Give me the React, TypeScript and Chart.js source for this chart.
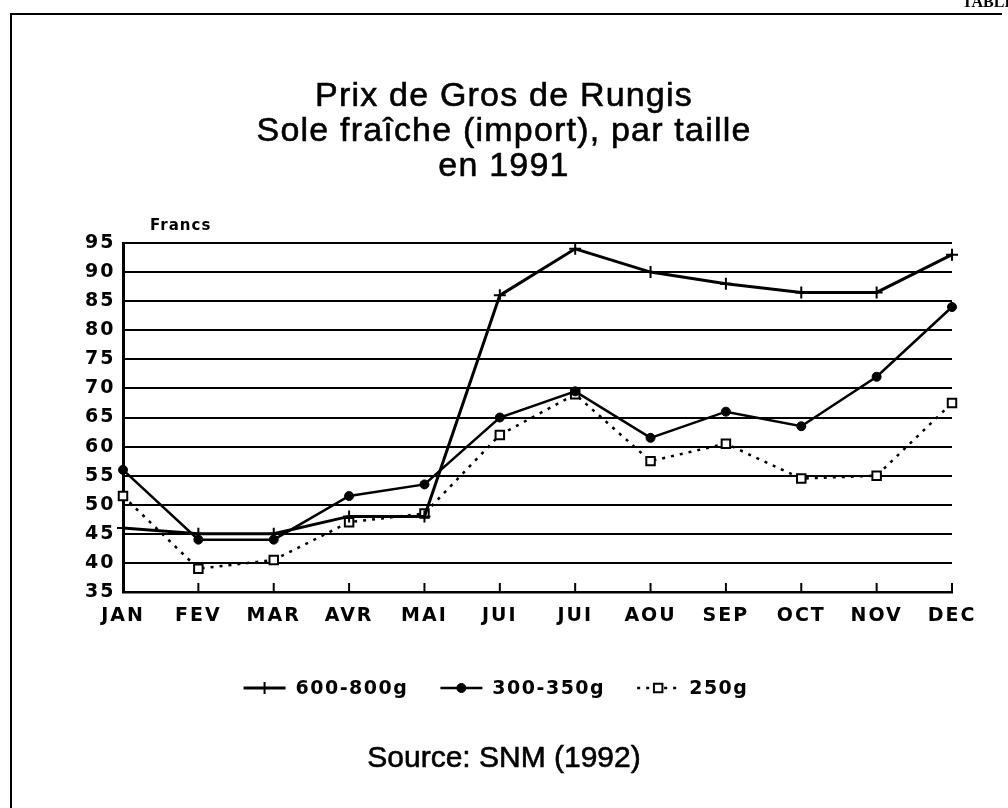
import React, { useEffect, useRef } from 'react';
import { Chart, registerables } from 'chart.js';

Chart.register(...registerables);

// ---- data ----
const months = ['JAN', 'FEV', 'MAR', 'AVR', 'MAI', 'JUI', 'JUI', 'AOU', 'SEP', 'OCT', 'NOV', 'DEC'];
const size600 = [46, 45, 45, 48, 48, 86, 94, 90, 88, 86.5, 86.5, 93];
const size300 = [56, 44, 44, 51.5, 53.5, 65, 69.5, 61.5, 66, 63.5, 72, 84];
const size250 = [51.5, 39, 40.5, 47, 48.5, 62, 69, 57.5, 60.5, 54.5, 55, 67.5];
const seriesLabels = ['600-800g', '300-350g', '250g'];
const yMin = 35;
const yMax = 95;
const yStep = 5;
const titleLines = ['Prix de Gros de Rungis', 'Sole fraîche (import), par taille', 'en 1991'];
const yAxisTitle = 'Francs';
const sourceText = 'Source: SNM (1992)';

const BOLD_FONT = 'DejaVu Sans';
const TITLE_FONT = '"Liberation Sans", Arial, sans-serif';

function drawMarker(ctx: CanvasRenderingContext2D, style: string, x: number, y: number, r: number, fill: string, lw: number) {
  ctx.save();
  ctx.setLineDash([]);
  ctx.beginPath();
  if (style === 'circle') {
    ctx.arc(x, y, r, 0, Math.PI * 2);
  } else if (style === 'rect') {
    const h = r * Math.SQRT1_2;
    ctx.rect(x - h, y - h, 2 * h, 2 * h);
  } else {
    ctx.moveTo(x - r, y);
    ctx.lineTo(x + r, y);
    ctx.moveTo(x, y - r);
    ctx.lineTo(x, y + r);
  }
  ctx.fillStyle = fill;
  ctx.strokeStyle = '#000';
  ctx.lineWidth = lw;
  if (style !== 'cross') ctx.fill();
  ctx.stroke();
  ctx.restore();
}

const spacingPlugin = {
  id: 'spacing',
  beforeUpdate(chart: any) {
    (chart.ctx as any).letterSpacing = '2px';
  },
  beforeDraw(chart: any) {
    (chart.ctx as any).letterSpacing = '2px';
  },
};

const innerTicks = {
  id: 'innerTicks',
  beforeDatasetsDraw(chart: any) {
    const x = chart.scales.x;
    const { bottom } = chart.chartArea;
    const ctx = chart.ctx;
    ctx.save();
    ctx.strokeStyle = '#000';
    ctx.lineWidth = 2;
    for (let i = 1; i < months.length; i++) {
      const px = x.getPixelForTick(i);
      ctx.beginPath();
      ctx.moveTo(px, bottom);
      ctx.lineTo(px, bottom - 9);
      ctx.stroke();
    }
    ctx.restore();
  },
};

const lineLegend = {
  id: 'lineLegend',
  afterDraw(chart: any, _args: any, opts: any) {
    const ctx = chart.ctx as CanvasRenderingContext2D;
    ctx.save();
    ctx.font = `bold ${opts.fontSize}px "${BOLD_FONT}"`;
    (ctx as any).letterSpacing = '1.5px';
    ctx.textBaseline = 'middle';
    ctx.textAlign = 'left';
    ctx.fillStyle = '#000';
    const items = chart.data.datasets.map((ds: any) => ({
      ds,
      tw: ctx.measureText(ds.label).width,
    }));
    const total = items.reduce((a: number, it: any) => a + opts.lineLen + opts.textGap + it.tw, 0) + opts.itemGap * (items.length - 1);
    let x = chart.width / 2 - total / 2 + opts.shiftX;
    const y = opts.y;
    for (const it of items) {
      const ds = it.ds;
      ctx.save();
      ctx.strokeStyle = '#000';
      ctx.lineWidth = ds.borderWidth;
      ctx.setLineDash(ds.borderDash || []);
      ctx.beginPath();
      ctx.moveTo(x, y);
      ctx.lineTo(x + opts.lineLen, y);
      ctx.stroke();
      ctx.restore();
      drawMarker(ctx, ds.pointStyle, x + opts.lineLen / 2, y, ds.pointRadius, ds.pointBackgroundColor, ds.pointBorderWidth);
      ctx.fillText(ds.label, x + opts.lineLen + opts.textGap, y + 1);
      x += opts.lineLen + opts.textGap + it.tw + opts.itemGap;
    }
    ctx.restore();
  },
};

export default function App() {
  const ref = useRef<HTMLCanvasElement>(null);

  useEffect(() => {
    if (!ref.current) return;
    const chart = new Chart(ref.current, {
      type: 'line',
      data: {
        labels: months,
        datasets: [
          {
            label: seriesLabels[0],
            data: size600,
            borderColor: '#000',
            borderWidth: 3,
            pointStyle: 'cross',
            pointRadius: 6,
            pointBorderWidth: 2,
            pointBorderColor: '#000',
            pointBackgroundColor: '#000',
            tension: 0,
            clip: false,
          } as any,
          {
            label: seriesLabels[1],
            data: size300,
            borderColor: '#000',
            borderWidth: 2.5,
            pointStyle: 'circle',
            pointRadius: 4.5,
            pointBorderWidth: 1,
            pointBorderColor: '#000',
            pointBackgroundColor: '#000',
            tension: 0,
            clip: false,
          } as any,
          {
            label: seriesLabels[2],
            data: size250,
            borderColor: '#000',
            borderWidth: 2.5,
            borderDash: [3, 6],
            pointStyle: 'rect',
            pointRadius: 6,
            pointBorderWidth: 2,
            pointBorderColor: '#000',
            pointBackgroundColor: '#fff',
            tension: 0,
            clip: false,
          } as any,
        ],
      },
      options: {
        responsive: false,
        animation: false,
        events: [],
        layout: { padding: { left: 85, top: 243, right: 56, bottom: 176 } },
        plugins: {
          legend: { display: false },
          tooltip: { enabled: false },
          title: { display: false },
          lineLegend: { y: 688, fontSize: 19, lineLen: 42, textGap: 10, itemGap: 32, shiftX: -8 },
        } as any,
        scales: {
          x: {
            type: 'category',
            offset: false,
            grid: { display: false, drawTicks: false },
            border: { display: true, color: '#000', width: 2.5 },
            ticks: {
              color: '#000',
              font: { family: BOLD_FONT, size: 19, weight: 'bold' },
              padding: 13,
              autoSkip: false,
              maxRotation: 0,
            },
            afterFit: (s: any) => {
              s.height = 40;
            },
          },
          y: {
            min: yMin,
            max: yMax,
            grid: { color: '#000', lineWidth: 2, drawTicks: false },
            border: { display: true, color: '#000', width: 3 },
            ticks: {
              stepSize: yStep,
              color: '#000',
              padding: 0,
              crossAlign: 'far',
              font: { family: BOLD_FONT, size: 19, weight: 'bold' },
            },
            afterFit: (s: any) => {
              s.width = 38;
            },
          },
        },
      },
      plugins: [spacingPlugin, innerTicks, lineLegend],
    } as any);
    return () => chart.destroy();
  }, []);

  return (
    <div style={{ position: 'absolute', left: 0, top: 0, width: 1008, height: 808, background: '#fff', overflow: 'hidden' }}>
      <canvas ref={ref} width={1008} height={808} style={{ position: 'absolute', left: 0, top: 0 }} />
      <div
        style={{
          position: 'absolute',
          left: 10,
          top: 13,
          width: 990,
          height: 820,
          borderTop: '2px solid #000',
          borderLeft: '2px solid #000',
        }}
      />
      <div
        style={{
          position: 'absolute',
          left: 962,
          top: -7,
          fontFamily: 'serif',
          fontWeight: 'bold',
          fontSize: 16,
          whiteSpace: 'nowrap',
        }}
      >
        TABLE
      </div>
      <div
        style={{
          position: 'absolute',
          left: 0,
          top: 77,
          width: 1008,
          textAlign: 'center',
          fontFamily: TITLE_FONT,
          fontSize: 34,
          lineHeight: '35px',
          letterSpacing: '1.2px',
          color: '#000',
          WebkitTextStroke: '0.6px #000',
        }}
      >
        {titleLines.map((t, i) => (
          <div key={i}>{t}</div>
        ))}
      </div>
      <div
        style={{
          position: 'absolute',
          left: 150,
          top: 216,
          fontFamily: BOLD_FONT,
          fontWeight: 'bold',
          fontSize: 15,
          lineHeight: '18px',
          letterSpacing: '1px',
        }}
      >
        {yAxisTitle}
      </div>
      <div
        style={{
          position: 'absolute',
          left: 0,
          top: 739,
          width: 1008,
          textAlign: 'center',
          fontFamily: TITLE_FONT,
          fontSize: 30,
          lineHeight: '36px',
          WebkitTextStroke: '0.6px #000',
        }}
      >
        {sourceText}
      </div>
    </div>
  );
}
